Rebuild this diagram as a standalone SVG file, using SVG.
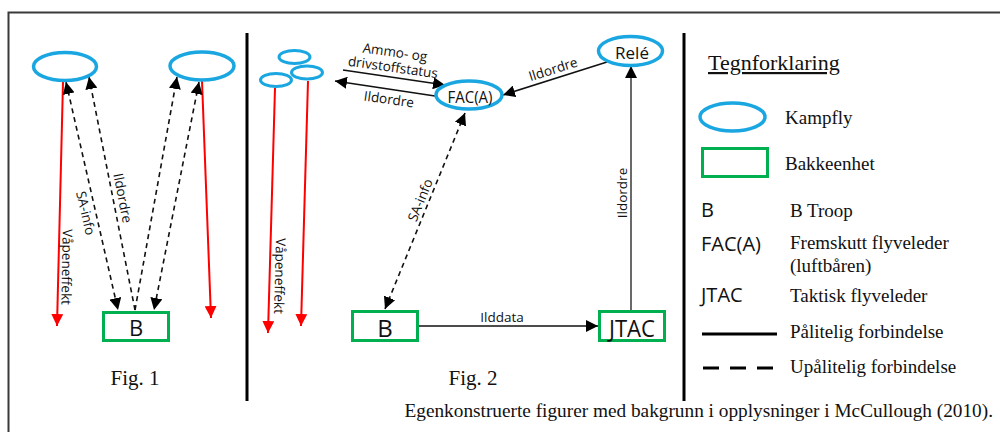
<svg xmlns="http://www.w3.org/2000/svg" width="1000" height="432" viewBox="0 0 1000 432">
<style>
.ell{fill:#fff;stroke:#1AA7E1;stroke-width:3.5}
.box{fill:#fff;stroke:#00B050;stroke-width:3}
.sans{font-family:"Open Sans","Noto Sans",sans-serif;fill:#111}
.serif{font-family:"Liberation Serif","Times New Roman",serif;fill:#111}
.lbl{font-size:13.5px}
.c{text-anchor:middle;dominant-baseline:central}
.dash{stroke:#111;stroke-width:1.6;stroke-dasharray:5 4;fill:none}
.solid{stroke:#111;stroke-width:1.6;fill:none}
.red{stroke:#FF0000;stroke-width:2;fill:none}
.div{stroke:#000;stroke-width:3}
</style>
<defs>
<marker id="ah" viewBox="0 0 12 12" markerWidth="12" markerHeight="12" refX="12" refY="6" orient="auto-start-reverse" markerUnits="userSpaceOnUse"><path d="M0,0 L12,6 L0,12 z" fill="#000"/></marker>
<marker id="ahr" viewBox="0 0 12 12" markerWidth="12" markerHeight="12" refX="12" refY="6" orient="auto" markerUnits="userSpaceOnUse"><path d="M0,0 L12,6 L0,12 z" fill="#FF0000"/></marker>
</defs>
<rect x="0" y="0" width="1000" height="432" fill="#fff"/>
<rect x="8.5" y="12.5" width="1000" height="430" fill="none" stroke="#3a3a3a" stroke-width="2"/>
<line class="div" x1="247" y1="33" x2="247" y2="401"/>
<line class="div" x1="684" y1="33" x2="684" y2="401"/>

<g id="connectors">
  <!-- Fig 1 -->
  <line class="red" x1="63" y1="82" x2="57" y2="326" marker-end="url(#ahr)"/>
  <line class="red" x1="202" y1="81" x2="211" y2="318" marker-end="url(#ahr)"/>
  <line class="dash" x1="66" y1="82" x2="118" y2="310" marker-start="url(#ah)" marker-end="url(#ah)"/>
  <line class="dash" x1="135" y1="310" x2="89" y2="77" marker-end="url(#ah)"/>
  <line class="dash" x1="135" y1="310" x2="177" y2="77" marker-end="url(#ah)"/>
  <line class="dash" x1="199" y1="82" x2="154" y2="310" marker-start="url(#ah)" marker-end="url(#ah)"/>
  <text class="sans lbl c" transform="translate(86,213) rotate(77)">SA-info</text>
  <text class="sans lbl c" transform="translate(123,198) rotate(79)">Ildordre</text>
  <text class="sans lbl c" transform="translate(67,267) rotate(91)">Våpeneffekt</text>
  <!-- Fig 2 -->
  <line class="red" x1="275" y1="88" x2="268" y2="333" marker-end="url(#ahr)"/>
  <line class="red" x1="308" y1="81" x2="301" y2="326" marker-end="url(#ahr)"/>
  <text class="sans lbl c" transform="translate(280,276) rotate(91.5)">Våpeneffekt</text>
  <line class="solid" x1="343" y1="70" x2="445" y2="85" marker-end="url(#ah)"/>
  <line class="solid" x1="435" y1="96" x2="335" y2="81" marker-end="url(#ah)"/>
  <text class="sans lbl c" transform="translate(395,52) rotate(8)">Ammo- og</text>
  <text class="sans lbl c" transform="translate(393,67) rotate(8)">drivstoffstatus</text>
  <text class="sans lbl c" transform="translate(389,99) rotate(8)">Ildordre</text>
  <line class="solid" x1="607" y1="62" x2="503" y2="95" marker-end="url(#ah)"/>
  <text class="sans lbl c" transform="translate(553,69) rotate(-17.5)">Ildordre</text>
  <line x1="631" y1="311" x2="631" y2="66" stroke="#444" stroke-width="1.6" marker-end="url(#ah)"/>
  <text class="sans lbl c" transform="translate(622,193) rotate(-90)">Ildordre</text>
  <line class="dash" x1="465" y1="113" x2="385" y2="309" marker-start="url(#ah)" marker-end="url(#ah)"/>
  <text class="sans lbl c" transform="translate(420,200) rotate(-67.8)">SA-info</text>
  <line class="solid" x1="418" y1="326" x2="598" y2="326" marker-end="url(#ah)"/>
  <text class="sans lbl c" x="502" y="317">Ilddata</text>
</g>

<g id="fig1-fly-left"><ellipse class="ell" cx="65" cy="66.5" rx="31.5" ry="14"/></g>
<g id="fig1-fly-right"><ellipse class="ell" cx="202" cy="66" rx="32" ry="14"/></g>
<g id="fig1-B"><rect class="box" x="103.5" y="312.5" width="65" height="28"/><text class="sans c" x="136" y="327" font-size="22">B</text></g>
<text class="serif c" x="135" y="378" font-size="21">Fig. 1</text>

<g id="fig2-fly">
  <ellipse class="ell" cx="294.5" cy="57" rx="15.5" ry="6.5" style="stroke-width:3"/>
  <ellipse class="ell" cx="276" cy="80" rx="15.5" ry="6.5" style="stroke-width:3"/>
  <ellipse class="ell" cx="307" cy="72.5" rx="15.5" ry="6.5" style="stroke-width:3"/>
</g>
<g id="fig2-FAC"><ellipse class="ell" cx="469" cy="95" rx="33" ry="14"/><text class="sans c" x="470" y="96" font-size="17" textLength="45" lengthAdjust="spacingAndGlyphs">FAC(A)</text></g>
<g id="fig2-Rele"><ellipse class="ell" cx="630.5" cy="51" rx="32" ry="14.5"/><text class="sans c" x="632" y="52" font-size="17">Relé</text></g>
<g id="fig2-B"><rect class="box" x="352.5" y="311.5" width="65" height="29"/><text class="sans c" x="385" y="327" font-size="24">B</text></g>
<g id="fig2-JTAC"><rect class="box" x="599.5" y="311.5" width="65" height="29"/><text class="sans c" x="632" y="327" font-size="24" textLength="46" lengthAdjust="spacingAndGlyphs">JTAC</text></g>
<text class="serif c" x="473" y="378" font-size="21">Fig. 2</text>

<g id="legend">
  <text class="serif" x="708" y="70" font-size="22" text-decoration="underline">Tegnforklaring</text>
  <ellipse class="ell" cx="732.5" cy="117" rx="32.5" ry="14"/>
  <text class="serif" x="785" y="124" font-size="19">Kampfly</text>
  <rect class="box" x="702.5" y="148.5" width="65" height="28"/>
  <text class="serif" x="785" y="170" font-size="19">Bakkeenhet</text>
  <text class="sans" x="701" y="217" font-size="20">B</text>
  <text class="serif" x="790" y="217" font-size="19">B Troop</text>
  <text class="sans" x="701" y="251" font-size="20">FAC(A)</text>
  <text class="serif" x="790" y="249" font-size="19">Fremskutt flyveleder</text>
  <text class="serif" x="790" y="272" font-size="19">(luftbåren)</text>
  <text class="sans" x="701" y="302" font-size="20">JTAC</text>
  <text class="serif" x="790" y="302" font-size="19">Taktisk flyveleder</text>
  <line x1="702" y1="334" x2="777" y2="334" stroke="#000" stroke-width="3"/>
  <text class="serif" x="790" y="338" font-size="19">Pålitelig forbindelse</text>
  <line x1="703" y1="368" x2="780" y2="368" stroke="#000" stroke-width="3" stroke-dasharray="16 11"/>
  <text class="serif" x="790" y="373" font-size="19">Upålitelig forbindelse</text>
</g>
<text class="serif" x="993" y="417" font-size="19.3" text-anchor="end">Egenkonstruerte figurer med bakgrunn i opplysninger i McCullough (2010).</text>
</svg>
